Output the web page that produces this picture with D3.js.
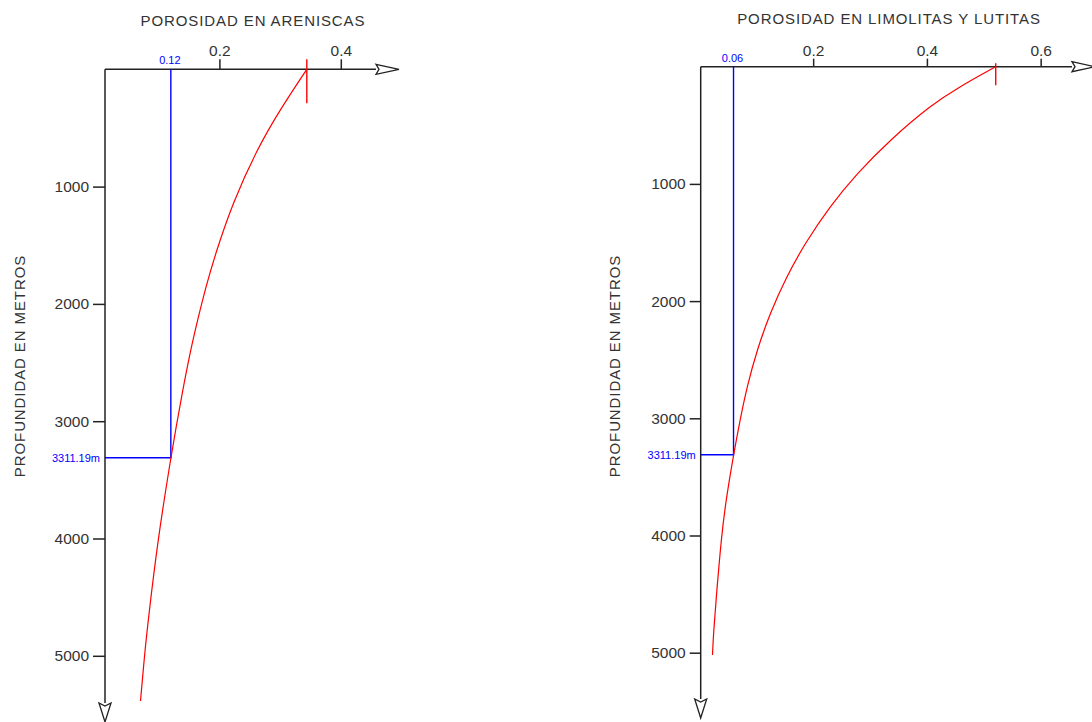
<!DOCTYPE html>
<html>
<head>
<meta charset="utf-8">
<script src="https://cdnjs.cloudflare.com/ajax/libs/d3/7.8.5/d3.min.js"></script>
<style>
  html, body { margin: 0; padding: 0; background: #fff; }
  svg { display: block; font-family: "Liberation Sans", Arial, sans-serif; }
</style>
</head>
<body>
<svg id="chart" width="1092" height="722"></svg>
<script>
// ---- Data ----
const titles = ["POROSIDAD EN ARENISCAS", "POROSIDAD EN LIMOLITAS Y LUTITAS"];
const yAxisLabel = "PROFUNDIDAD EN METROS";
const depthTicks = [1000, 2000, 3000, 4000, 5000];
const sandPorosityTicks = [0.2, 0.4];
const shalePorosityTicks = [0.2, 0.4, 0.6];

const sandDepths    = [0, 347, 688, 1142, 1569, 1853, 2137, 2421, 2762, 3047, 3311.19, 4000, 4695, 4985, 5385];
const sandPorosity  = [0.344, 0.2995, 0.2613, 0.2217, 0.1937, 0.1778, 0.1641, 0.1514, 0.1387, 0.1288, 0.120, 0.0988, 0.0827, 0.0768, 0.0700];
const shaleDepths   = [0, 171, 327, 625, 910, 1195, 1507, 1792, 2104, 2417, 2730, 3015, 3311.19, 3697, 4000, 4551, 4834, 5020];
const shalePorosity = [0.521, 0.4573, 0.4072, 0.3351, 0.2771, 0.2287, 0.1857, 0.1531, 0.1241, 0.1013, 0.0837, 0.0714, 0.060, 0.0468, 0.0389, 0.0292, 0.0248, 0.0230];

const markerDepth = 3311.19;
const markerDepthLabel = "3311.19m";
const sandMarkerPorosity = 0.12;
const shaleMarkerPorosity = 0.06;
const sandMarkerLabel = "0.12";
const shaleMarkerLabel = "0.06";

// ---- Layout ----
const panels = [
  {
    title: titles[0], titleX: 253, titleY: 26,
    depths: sandDepths, porosity: sandPorosity, xTicks: sandPorosityTicks,
    markerP: sandMarkerPorosity, markerLabel: sandMarkerLabel,
    xDomain: [0, 0.5], xRange: [98, 401.5],
    yDomain: [0, 5000], yRange: [69.3, 655.8],
    axisX: 105, xAxisEnd: 376, yAxisEnd: 703,
    topTick: [-10, 34], ylabelX: 25, ytick: 12, xtick: 10
  },
  {
    title: titles[1], titleX: 889, titleY: 24,
    depths: shaleDepths, porosity: shalePorosity, xTicks: shalePorosityTicks,
    markerP: shaleMarkerPorosity, markerLabel: shaleMarkerLabel,
    xDomain: [0, 0.65], xRange: [699.4, 1069.1],
    yDomain: [0, 5000], yRange: [66.7, 652.7],
    axisX: 700.7, xAxisEnd: 1072, yAxisEnd: 699,
    topTick: [-3.5, 18.5], ylabelX: 620, ytick: 11, xtick: 8
  }
];

const svg = d3.select("#chart");
const axisColor = "#222";
const textColor = "#333";

panels.forEach(p => {
  const x = d3.scaleLinear().domain(p.xDomain).range(p.xRange);
  const y = d3.scaleLinear().domain(p.yDomain).range(p.yRange);
  const g = svg.append("g");
  const y0 = y(0);

  // title
  g.append("text").attr("x", p.titleX).attr("y", p.titleY)
    .attr("text-anchor", "middle").attr("fill", textColor)
    .style("font-size", "15px").style("letter-spacing", "0.9px").text(p.title);

  // y label
  g.append("text")
    .attr("transform", `translate(${p.ylabelX},366) rotate(-90)`)
    .attr("text-anchor", "middle").attr("fill", textColor)
    .style("font-size", "15px").style("letter-spacing", "0.9px").text(yAxisLabel);

  // x axis (top ticks)
  const xa = g.append("g").attr("transform", `translate(0,${y0})`)
    .call(d3.axisTop(x).tickValues(p.xTicks).tickSize(p.xtick).tickPadding(3)
      .tickFormat(d3.format(".1f")));
  xa.select(".domain").remove();
  xa.selectAll("line").attr("stroke", axisColor).attr("stroke-width", 1.5);
  xa.selectAll("text").attr("fill", textColor)
    .style("font-size", "15.5px").style("font-family", "'Liberation Sans', Arial, sans-serif");

  // y axis
  const ya = g.append("g").attr("transform", `translate(${p.axisX},0)`)
    .call(d3.axisLeft(y).tickValues(depthTicks).tickSize(p.ytick).tickPadding(4)
      .tickFormat(d3.format("d")));
  ya.select(".domain").remove();
  ya.selectAll("line").attr("stroke", axisColor).attr("stroke-width", 1.5);
  ya.selectAll("text").attr("fill", textColor)
    .style("font-size", "15.5px").style("font-family", "'Liberation Sans', Arial, sans-serif");

  // axis lines
  g.append("line").attr("x1", p.axisX).attr("x2", p.xAxisEnd)
    .attr("y1", y0).attr("y2", y0).attr("stroke", axisColor).attr("stroke-width", 1.5);
  g.append("line").attr("x1", p.axisX).attr("x2", p.axisX)
    .attr("y1", y0).attr("y2", p.yAxisEnd).attr("stroke", axisColor).attr("stroke-width", 1.5);

  // arrowheads (open)
  const ax = p.xAxisEnd;
  g.append("path")
    .attr("d", `M${ax},${y0 - 5} L${ax + 23},${y0} L${ax},${y0 + 5} L${ax + 3},${y0} Z`)
    .attr("fill", "#fff").attr("stroke", axisColor).attr("stroke-width", 1.3);
  const ay = p.yAxisEnd;
  g.append("path")
    .attr("d", `M${p.axisX - 6},${ay} L${p.axisX},${ay + 19} L${p.axisX + 6},${ay} L${p.axisX},${ay + 3} Z`)
    .attr("fill", "#fff").attr("stroke", axisColor).attr("stroke-width", 1.3);

  // blue marker lines
  const mx = x(p.markerP), my = y(markerDepth);
  g.append("path")
    .attr("d", `M${mx},${y0} L${mx},${my} L${p.axisX},${my}`)
    .attr("fill", "none").attr("stroke", "#0000ff").attr("stroke-width", 1.4);
  g.append("text").attr("x", mx - 1).attr("y", y0 - 5)
    .attr("text-anchor", "middle").attr("fill", "#0000ff")
    .style("font-size", "11px").text(p.markerLabel);
  g.append("text").attr("x", p.axisX - 5).attr("y", my + 4)
    .attr("text-anchor", "end").attr("fill", "#0000ff")
    .style("font-size", "11px").text(markerDepthLabel);

  // curve
  const pts = p.depths.map((d, i) => [p.porosity[i], d]);
  g.append("path").datum(pts)
    .attr("d", d3.line().x(d => x(d[0])).y(d => y(d[1])).curve(d3.curveBasis))
    .attr("fill", "none").attr("stroke", "#ff0000").attr("stroke-width", 1.2);

  // red tick at surface porosity
  const tx = x(p.porosity[0]);
  g.append("line").attr("x1", tx).attr("x2", tx)
    .attr("y1", y0 + p.topTick[0]).attr("y2", y0 + p.topTick[1])
    .attr("stroke", "#ff0000").attr("stroke-width", 1.4);
});
</script>
</body>
</html>
